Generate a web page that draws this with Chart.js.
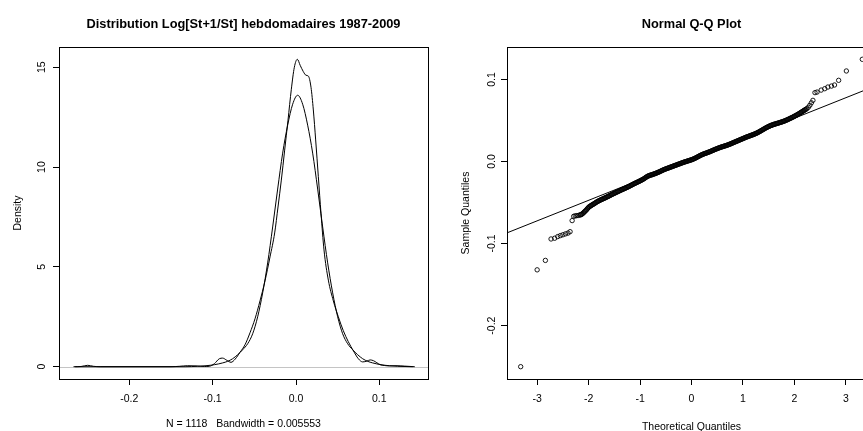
<!DOCTYPE html>
<html><head><meta charset="utf-8">
<script src="https://cdn.jsdelivr.net/npm/chart.js@4"></script>
<style>
html,body{margin:0;padding:0;background:#fff;overflow:hidden;width:863px;height:431px;}
#wrap{position:relative;width:896px;height:431px;}
.panel{position:absolute;top:0;width:448px;height:431px;}
canvas{display:block;}
</style></head><body>
<div id="wrap">
<div class="panel" style="left:0"><canvas id="c1" width="448" height="431"></canvas></div>
<div class="panel" style="left:448px"><canvas id="c2" width="448" height="431"></canvas></div>
</div>
<script>
// ---------- data ----------
const densityTitle = "Distribution Log[St+1/St] hebdomadaires 1987-2009";
const densityXLabel = "N = 1118   Bandwidth = 0.005553";
const densityYLabel = "Density";
const qqTitle = "Normal Q-Q Plot";
const qqXLabel = "Theoretical Quantiles";
const qqYLabel = "Sample Quantiles";

const densityXTicks = [-0.2, -0.1, 0.0, 0.1];
const densityYTicks = [0, 5, 10, 15];
const qqXTicks = [-3, -2, -1, 0, 1, 2, 3];
const qqYTicks = [-0.2, -0.1, 0.0, 0.1];

// kernel density estimate
const densityKdeX = [-0.267,-0.258,-0.250,-0.243,-0.235,-0.150,-0.140,-0.130,-0.120,-0.110,
 -0.104,-0.098,-0.092,-0.088,-0.083,-0.078,-0.073,
 -0.0672,-0.0612,-0.0552,-0.0492,-0.0432,-0.0372,-0.0312,-0.0256,-0.0216,-0.0176,-0.0136,-0.0096,-0.0056,-0.0020,0.0016,
 0.0050,0.0088,0.0120,0.0148,0.0180,0.0208,0.0236,0.0268,0.0300,0.0336,0.0388,0.0448,0.0508,0.0568,0.0628,0.0688,0.0748,
 0.080,0.085,0.089,0.093,0.097,0.101,0.106,0.112,0.120,0.130,0.1425];
const densityKdeY = [0,0.01,0.07,0.02,0,0,0.02,0.05,0.04,0.01,
 0.02,0.15,0.40,0.43,0.32,0.22,0.38,
 0.72,1.1,1.7,2.4,3.3,4.3,5.5,6.7,8.0,9.35,10.85,12.35,13.9,15.0,15.4,
 15.1,14.78,14.6,14.56,14.0,12.86,11.36,9.52,7.68,5.85,4.34,3.3,2.5,1.8,1.25,0.8,0.4,
 0.24,0.28,0.34,0.3,0.2,0.1,0.06,0.04,0.05,0.03,0];

// smooth reference density
const densityNormX = [-0.265,-0.133,-0.118,-0.108,-0.098,-0.088,-0.082,-0.076,-0.070,-0.064,
 -0.058,-0.052,-0.046,-0.040,-0.034,-0.028,-0.022,-0.016,-0.010,-0.004,
 0.002,0.008,0.014,0.020,0.026,0.032,0.038,0.044,0.050,0.056,
 0.062,0.068,0.074,0.080,0.086,0.092,0.102,0.112,0.122,0.140];
const densityNormY = [0,0,0.02,0.05,0.1,0.19,0.27,0.4,0.6,0.85,
 1.15,1.65,2.5,3.7,5.2,7.0,8.9,10.7,12.1,13.15,
 13.6,13.15,12.1,10.7,8.9,7.0,5.2,3.7,2.5,1.65,
 1.15,0.85,0.6,0.4,0.27,0.19,0.1,0.05,0.02,0];

// Q-Q points: theoretical quantile / sample quantile
const qqTheoretical = [
 -3.32,-3.00,-2.84,-2.73,-2.66,-2.60,-2.55,-2.50,-2.45,-2.40,-2.36,-2.32,
 -2.29,-2.26,-2.23,-2.20,-2.17,-2.155,-2.14,-2.125,-2.11,-2.095,-2.08,-2.065,-2.05,-2.035,-2.02,-2.005,
 -1.99,-1.975,-1.96,-1.945,-1.93,-1.915,-1.90,-1.885,-1.87,-1.855,-1.84,-1.825,-1.81,-1.795,-1.78,-1.765,-1.75,-1.735,-1.72,-1.705,
 -1.69,-1.675,-1.66,-1.645,-1.63,-1.615,-1.60,-1.585,-1.57,-1.555,-1.54,-1.525,-1.51,-1.495,-1.48,-1.465,-1.45,-1.435,-1.42,-1.405,
 -1.39,-1.375,-1.36,-1.345,-1.33,-1.315,-1.30,-1.285,-1.27,-1.255,-1.24,-1.225,-1.21,-1.195,-1.18,-1.165,-1.15,-1.135,-1.12,-1.105,
 -1.09,-1.075,-1.06,-1.045,-1.03,-1.015,-1.00,-0.985,-0.97,-0.955,-0.94,-0.925,-0.91,-0.895,-0.88,-0.865,-0.85,-0.835,-0.82,-0.805,
 -0.79,-0.775,-0.76,-0.745,-0.73,-0.715,-0.70,-0.685,-0.67,-0.655,-0.64,-0.625,-0.61,-0.595,-0.58,-0.565,-0.55,-0.535,-0.52,-0.505,
 -0.49,-0.475,-0.46,-0.445,-0.43,-0.415,-0.40,-0.385,-0.37,-0.355,-0.34,-0.325,-0.31,-0.295,-0.28,-0.265,-0.25,-0.235,-0.22,-0.205,
 -0.19,-0.175,-0.16,-0.145,-0.13,-0.115,-0.10,-0.085,-0.07,-0.055,-0.04,-0.025,-0.01,0.005,0.02,0.035,0.05,0.065,0.08,0.095,
 0.11,0.125,0.14,0.155,0.17,0.185,0.20,0.215,0.23,0.245,0.26,0.275,0.29,0.305,0.32,0.335,0.35,0.365,0.38,0.395,
 0.41,0.425,0.44,0.455,0.47,0.485,0.50,0.515,0.53,0.545,0.56,0.575,0.59,0.605,0.62,0.635,0.65,0.665,0.68,0.695,
 0.71,0.725,0.74,0.755,0.77,0.785,0.80,0.815,0.83,0.845,0.86,0.875,0.89,0.905,0.92,0.935,0.95,0.965,0.98,0.995,
 1.01,1.025,1.04,1.055,1.07,1.085,1.10,1.115,1.13,1.145,1.16,1.175,1.19,1.205,1.22,1.235,1.25,1.265,1.28,1.295,
 1.31,1.325,1.34,1.355,1.37,1.385,1.40,1.415,1.43,1.445,1.46,1.475,1.49,1.505,1.52,1.535,1.55,1.565,1.58,1.595,
 1.61,1.625,1.64,1.655,1.67,1.685,1.70,1.715,1.73,1.745,1.76,1.775,1.79,1.805,1.82,1.835,1.85,1.865,1.88,1.895,
 1.91,1.925,1.94,1.955,1.97,1.985,2.00,2.015,2.03,2.045,2.06,2.075,2.09,2.105,2.12,2.135,2.15,2.165,2.18,2.195,
 2.21,2.225,2.24,2.27,2.30,2.33,2.36,
 2.40,2.44,2.52,2.59,2.65,2.72,2.78,2.86,3.01,3.32];
const qqSample = [
 -0.2500,-0.1320,-0.1205,-0.0944,-0.0935,-0.0915,-0.0903,-0.0893,-0.0882,-0.0872,-0.0855,-0.0720,
 -0.0668,-0.0662,-0.0660,-0.0657,-0.0652,-0.0649,-0.0645,-0.0639,-0.0632,-0.0622,-0.0612,-0.0604,-0.0595,-0.0584,-0.0572,-0.0562,
 -0.0553,-0.0547,-0.0540,-0.0534,-0.0528,-0.0523,-0.0517,-0.0511,-0.0505,-0.0499,-0.0492,-0.0487,-0.0482,-0.0477,-0.0472,-0.0468,-0.0463,-0.0459,-0.0455,-0.0451,
 -0.0446,-0.0442,-0.0437,-0.0433,-0.0428,-0.0424,-0.0419,-0.0414,-0.0409,-0.0404,-0.0399,-0.0395,-0.0390,-0.0386,-0.0381,-0.0377,-0.0372,-0.0368,-0.0363,-0.0359,
 -0.0354,-0.0350,-0.0345,-0.0341,-0.0337,-0.0333,-0.0329,-0.0325,-0.0320,-0.0316,-0.0311,-0.0307,-0.0302,-0.0297,-0.0292,-0.0287,-0.0282,-0.0277,-0.0272,-0.0268,
 -0.0263,-0.0259,-0.0254,-0.0250,-0.0245,-0.0241,-0.0236,-0.0231,-0.0226,-0.0221,-0.0216,-0.0210,-0.0204,-0.0197,-0.0190,-0.0185,-0.0179,-0.0175,-0.0171,-0.0168,
 -0.0165,-0.0162,-0.0159,-0.0156,-0.0152,-0.0149,-0.0145,-0.0142,-0.0138,-0.0134,-0.0130,-0.0126,-0.0121,-0.0117,-0.0112,-0.0108,-0.0103,-0.0099,-0.0095,-0.0092,
 -0.0088,-0.0085,-0.0081,-0.0078,-0.0074,-0.0071,-0.0067,-0.0064,-0.0060,-0.0057,-0.0053,-0.0050,-0.0046,-0.0043,-0.0039,-0.0036,-0.0032,-0.0029,-0.0025,-0.0022,
 -0.0018,-0.0015,-0.0011,-0.0008,-0.0005,-0.0002,0.0001,0.0004,0.0007,0.0010,0.0013,0.0016,0.0019,0.0022,0.0026,0.0030,0.0034,0.0038,0.0043,0.0048,
 0.0053,0.0058,0.0063,0.0068,0.0073,0.0078,0.0082,0.0086,0.0090,0.0094,0.0097,0.0100,0.0104,0.0107,0.0111,0.0114,0.0118,0.0122,0.0126,0.0130,
 0.0134,0.0138,0.0142,0.0146,0.0150,0.0154,0.0158,0.0161,0.0165,0.0168,0.0172,0.0175,0.0178,0.0181,0.0184,0.0187,0.0190,0.0193,0.0196,0.0199,
 0.0203,0.0206,0.0210,0.0214,0.0218,0.0222,0.0226,0.0230,0.0234,0.0238,0.0242,0.0246,0.0250,0.0254,0.0258,0.0262,0.0266,0.0270,0.0274,0.0278,
 0.0282,0.0286,0.0290,0.0294,0.0298,0.0301,0.0305,0.0308,0.0312,0.0315,0.0319,0.0322,0.0326,0.0329,0.0333,0.0337,0.0341,0.0345,0.0350,0.0355,
 0.0360,0.0365,0.0371,0.0376,0.0382,0.0387,0.0393,0.0398,0.0404,0.0409,0.0414,0.0419,0.0424,0.0428,0.0433,0.0437,0.0441,0.0444,0.0448,0.0451,
 0.0454,0.0457,0.0460,0.0462,0.0465,0.0468,0.0471,0.0474,0.0477,0.0480,0.0483,0.0486,0.0490,0.0493,0.0497,0.0501,0.0505,0.0509,0.0514,0.0518,
 0.0523,0.0527,0.0532,0.0536,0.0541,0.0546,0.0551,0.0556,0.0561,0.0566,0.0572,0.0577,0.0583,0.0589,0.0595,0.0601,0.0607,0.0613,0.0619,0.0625,
 0.0631,0.0637,0.0643,0.0660,0.0685,0.0715,0.0745,
 0.0839,0.0846,0.0870,0.0887,0.0907,0.0919,0.0932,0.0989,0.1103,0.1245];

// Q-Q reference line (qqline)
const qqLineIntercept = 0.0027;
const qqLineSlope = 0.0250;

// ---------- rendering ----------
const FONT = '"Liberation Sans", Arial, Helvetica, sans-serif';
Chart.defaults.font.family = FONT;
Chart.defaults.color = '#000';

function toPoints(xs, ys) {
  if (xs.length !== ys.length) console.error('length mismatch', xs.length, ys.length);
  return xs.map((x, i) => ({ x: x, y: ys[i] }));
}

function makeDecor(o) {
  return {
    id: 'decor',
    beforeDatasetsDraw(chart) {
      if (!o.zeroLine) return;
      const ctx = chart.ctx, a = chart.chartArea, y = chart.scales.y;
      const py = Math.round(y.getPixelForValue(0)) + 0.5;
      ctx.save();
      ctx.strokeStyle = '#c4c4c4'; ctx.lineWidth = 1;
      ctx.beginPath(); ctx.moveTo(a.left, py); ctx.lineTo(a.right, py); ctx.stroke();
      ctx.restore();
    },
    afterDraw(chart) {
      const ctx = chart.ctx, a = chart.chartArea, y = chart.scales.y;
      ctx.save();
      ctx.strokeStyle = '#000'; ctx.lineWidth = 1;
      ctx.strokeRect(Math.round(a.left) + 0.5, Math.round(a.top) + 0.5,
                     Math.round(a.right - a.left), Math.round(a.bottom - a.top));
      ctx.fillStyle = '#000';
      ctx.textAlign = 'center'; ctx.textBaseline = 'alphabetic';
      const cx = (a.left + a.right) / 2;
      ctx.font = 'bold 12.8px ' + FONT;
      ctx.fillText(o.title, cx, 28);
      ctx.font = '10.5px ' + FONT;
      ctx.fillText(o.xTitle, cx, o.xTitleY);
      ctx.save();
      ctx.translate(21, (a.top + a.bottom) / 2); ctx.rotate(-Math.PI / 2);
      ctx.fillText(o.yTitle, 0, 0);
      ctx.restore();
      o.yTicks.forEach(v => {
        const py = y.getPixelForValue(v);
        ctx.save();
        ctx.translate(o.yTickX, py); ctx.rotate(-Math.PI / 2);
        ctx.fillText(o.yFmt(v), 0, 0);
        ctx.restore();
      });
      ctx.restore();
    }
  };
}

function xAxis(min, max, ticks, fmt) {
  return {
    type: 'linear', min: min, max: max,
    afterBuildTicks: s => { s.ticks = ticks.map(v => ({ value: v })); },
    afterFit: s => { s.height = 52; },
    grid: { display: true, drawOnChartArea: false, drawTicks: true, tickLength: 6, color: '#000', lineWidth: 1 },
    border: { display: false },
    ticks: { display: true, autoSkip: false, maxRotation: 0, minRotation: 0, padding: 8,
             font: { size: 10.5 }, color: '#000', callback: v => fmt(v) }
  };
}
function yAxis(min, max, ticks) {
  return {
    type: 'linear', min: min, max: max,
    afterBuildTicks: s => { s.ticks = ticks.map(v => ({ value: v })); },
    afterFit: s => { s.width = 59; },
    grid: { display: true, drawOnChartArea: false, drawTicks: true, tickLength: 6, color: '#000', lineWidth: 1 },
    border: { display: false },
    ticks: { display: false }
  };
}

const commonOpts = {
  responsive: false, animation: false, events: [], devicePixelRatio: 1,
  layout: { autoPadding: false, padding: { left: 0, right: 20, top: 47, bottom: 0 } },
  plugins: { legend: { display: false }, tooltip: { enabled: false }, title: { display: false } }
};

// density chart
new Chart(document.getElementById('c1'), {
  type: 'scatter',
  data: {
    datasets: [
      { data: toPoints(densityKdeX, densityKdeY), showLine: true, borderColor: '#000', borderWidth: 1,
        pointRadius: 0, cubicInterpolationMode: 'monotone', fill: false },
      { data: toPoints(densityNormX, densityNormY), showLine: true, borderColor: '#000', borderWidth: 1,
        pointRadius: 0, cubicInterpolationMode: 'monotone', fill: false }
    ]
  },
  options: Object.assign({}, commonOpts, {
    scales: {
      x: xAxis(-0.2844, 0.1584, densityXTicks, v => v.toFixed(1)),
      y: yAxis(-0.616, 16.016, densityYTicks)
    }
  }),
  plugins: [makeDecor({ title: densityTitle, xTitle: densityXLabel, yTitle: densityYLabel,
    xTitleY: 427, yTicks: densityYTicks, yTickX: 45, yFmt: v => String(v), zeroLine: true })]
});

// Q-Q chart
const qqXMin = -3.586, qqXMax = 3.586;
new Chart(document.getElementById('c2'), {
  type: 'scatter',
  data: {
    datasets: [
      { data: toPoints(qqTheoretical, qqSample), showLine: false, pointStyle: 'circle', pointRadius: 2.2,
        pointBorderWidth: 0.9, pointBorderColor: '#000', pointBackgroundColor: 'rgba(0,0,0,0)' },
      { data: [qqXMin, qqXMax].map(x => ({ x: x, y: qqLineIntercept + qqLineSlope * x })),
        showLine: true, borderColor: '#000', borderWidth: 1, pointRadius: 0, fill: false }
    ]
  },
  options: Object.assign({}, commonOpts, {
    scales: {
      x: xAxis(qqXMin, qqXMax, qqXTicks, v => String(v)),
      y: yAxis(-0.265, 0.1395, qqYTicks)
    }
  }),
  plugins: [makeDecor({ title: qqTitle, xTitle: qqXLabel, yTitle: qqYLabel,
    xTitleY: 430, yTicks: qqYTicks, yTickX: 47, yFmt: v => v.toFixed(1), zeroLine: false })]
});
</script>
</body></html>
